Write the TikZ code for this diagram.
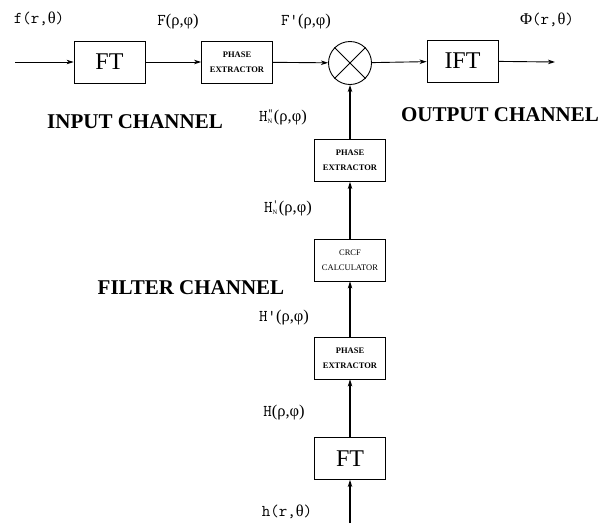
\documentclass[tikz,border=0pt]{standalone}
\usepackage{fontspec}
\setmainfont{Liberation Serif}
\usetikzlibrary{arrows.meta}
\newcommand{\tl}[1]{{\ttfamily\fontseries{m}\selectfont #1}}
\newcommand{\HNsym}[1]{\tl{H}\rlap{\raisebox{5pt}{\fontsize{11}{11}\selectfont\tl{#1}}}\raisebox{-2.2pt}{\fontsize{6.5}{6}\selectfont N}\hspace{1.5pt}}
\begin{document}
\begin{tikzpicture}[x=1pt,y=-1pt,
  >={Stealth[length=7pt,width=4.5pt,inset=2pt]},
  blk/.style={draw, line width=0.8pt, minimum width=71pt, minimum height=42pt, inner sep=0pt, align=center},
  bigtxt/.style={font=\fontsize{24}{26}\selectfont},
  smalltxt/.style={font=\fontsize{8.5}{15}\selectfont\bfseries},
  smallreg/.style={font=\fontsize{8.5}{15}\selectfont},
  lab/.style={font=\fontsize{16.5}{18}\selectfont, inner sep=0pt},
  chan/.style={font=\fontsize{21}{23}\selectfont\bfseries, inner sep=0pt},
  conn/.style={->, line width=0.9pt},
  vconn/.style={->, line width=1.2pt}]
\useasboundingbox (0,0) rectangle (602,523);
% top row
\node[blk, bigtxt] (ft1) at (109.5,62) {FT};
\node[blk, smalltxt] (pe1) at (237,62) {PHASE\\EXTRACTOR};
\node[draw, circle, line width=0.9pt, minimum size=43pt, inner sep=0pt] (mult) at (350,63) {};
\draw[line width=0.9pt] (mult.north west) -- (mult.south east);
\draw[line width=0.9pt] (mult.north east) -- (mult.south west);
\node[blk, bigtxt] (ift) at (462.5,61) {IFT};
\coordinate (in) at (15,62);
\coordinate (out) at (555,62);
% filter chain
\node[blk, smalltxt] (pe3) at (350,160.5) {PHASE\\EXTRACTOR};
\node[blk, smallreg] (crcf) at (350,260) {CRCF\\CALCULATOR};
\node[blk, smalltxt] (pe2) at (350,358) {PHASE\\EXTRACTOR};
\node[blk, bigtxt] (ft2) at (350,458.5) {FT};
\coordinate (hin) at (350,523);
% connectors
\draw[conn] (in) -- (ft1);
\draw[conn] (ft1) -- (pe1);
\draw[conn] (pe1) -- (mult);
\draw[conn] (mult) -- (ift);
\draw[conn] (ift) -- (out);
\draw[vconn] (pe3) -- (mult);
\draw[vconn] (crcf) -- (pe3);
\draw[vconn] (pe2) -- (crcf);
\draw[vconn] (ft2) -- (pe2);
\draw[vconn] (hin) -- (ft2);
% labels
\node[lab] (lf) at (39,19) {\tl{f(r,}θ\tl{)}};
\node[lab] (lF) at (178,22) {\tl{F}(ρ,φ)};
\node[lab] (lFp) at (306,22) {\tl{F'}(ρ,φ)};
\node[lab] (lPhi) at (547,20) {Φ\tl{(r,}θ\tl{)}};
\node[lab] (lHNpp) at (283,117) {\HNsym{\char"22}(ρ,φ)};
\node[lab] (lHNp) at (288,208) {\HNsym{'}(ρ,φ)};
\node[lab] (lHp) at (284,318) {\tl{H'}(ρ,φ)};
\node[lab] (lH) at (284,413) {\tl{H}(ρ,φ)};
\node[lab] (lh) at (287,512) {\tl{h(r,}θ\tl{)}};
\node[chan] (cin) at (135,122) {INPUT CHANNEL};
\node[chan] (cout) at (500,115) {OUTPUT CHANNEL};
\node[chan] (cfil) at (191,288) {FILTER CHANNEL};
\end{tikzpicture}
\end{document}
